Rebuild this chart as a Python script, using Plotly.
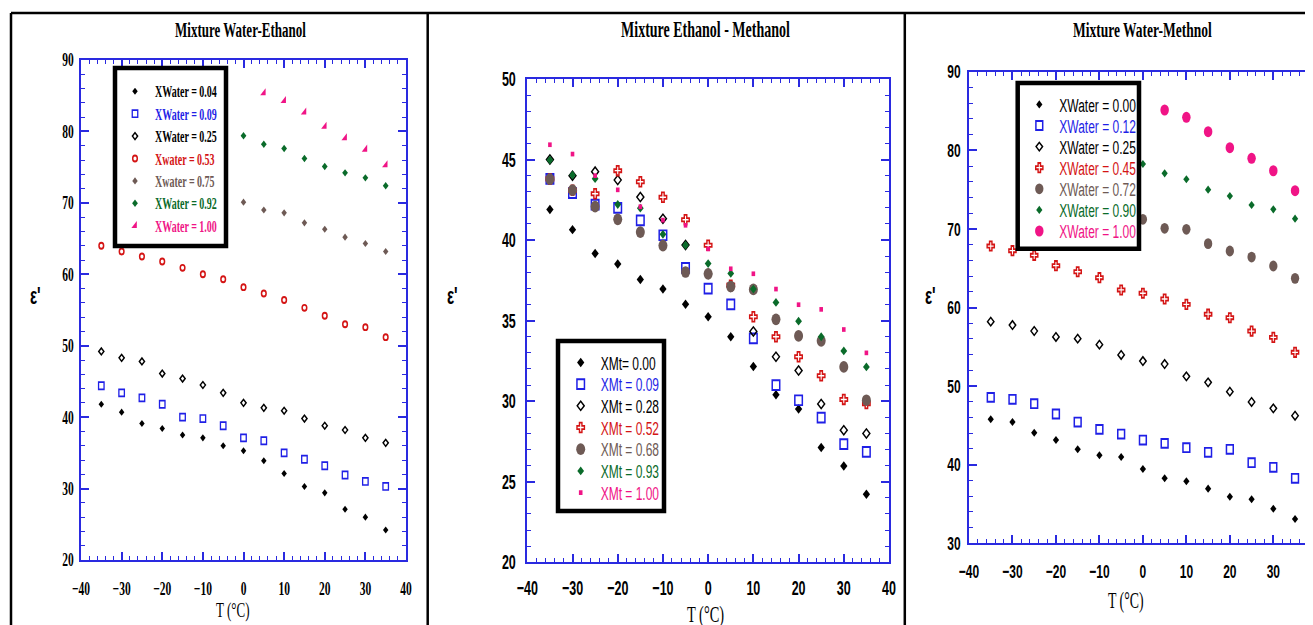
import plotly.graph_objects as go

# ---------------- data ----------------
T_all = [-35, -30, -25, -20, -15, -10, -5, 0, 5, 10, 15, 20, 25, 30, 35]
T_from0 = [0, 5, 10, 15, 20, 25, 30, 35]
T_from5 = [5, 10, 15, 20, 25, 30, 35]

# Panel 1: Mixture Water-Ethanol
ew_004 = [41.8, 40.7, 39.1, 38.4, 37.5, 37.1, 36.0, 35.3, 33.9, 32.1, 30.3, 29.4, 27.1, 26.0, 24.2]
ew_009 = [44.4, 43.4, 42.7, 41.8, 40.0, 39.8, 38.8, 37.1, 36.7, 35.0, 34.1, 33.2, 31.9, 31.0, 30.3]
ew_025 = [49.2, 48.3, 47.8, 46.1, 45.4, 44.5, 43.4, 42.0, 41.3, 40.9, 39.8, 38.8, 38.2, 37.1, 36.4]
ew_053 = [64.0, 63.2, 62.5, 61.8, 60.9, 60.0, 59.3, 58.2, 57.3, 56.4, 55.3, 54.2, 53.0, 52.6, 51.2]
ew_075 = [70.1, 69.0, 68.6, 67.2, 66.3, 65.2, 64.3, 63.2]
ew_092 = [79.4, 78.2, 77.6, 76.2, 75.1, 74.2, 73.5, 72.4]
ew_100 = [85.4, 84.3, 82.7, 80.7, 79.1, 77.5, 75.3]

# Panel 2: Mixture Ethanol - Methanol
em_000 = [41.9, 40.65, 39.17, 38.51, 37.55, 36.97, 36.02, 35.24, 34.0, 32.15, 30.4, 29.52, 27.12, 25.98, 24.22]
em_009 = [43.8, 42.92, 42.2, 42.0, 41.23, 40.3, 38.28, 36.99, 36.01, 33.9, 31.0, 30.06, 28.98, 27.33, 26.85]
em_028 = [45.0, 44.0, 44.25, 43.73, 42.67, 41.33, 39.7, 37.9, 37.1, 34.33, 32.76, 31.9, 29.83, 28.2, 28.0]
em_052 = [43.8, 43.1, 42.88, 44.31, 43.62, 42.66, 41.26, 39.68, 37.2, 35.24, 34.0, 32.76, 31.58, 30.11, 29.85]
em_068 = [43.78, 43.1, 42.08, 41.29, 40.5, 39.66, 38.02, 37.91, 37.12, 36.94, 35.08, 34.05, 33.75, 32.13, 30.06]
em_093 = [44.97, 44.04, 43.81, 42.21, 41.98, 40.36, 39.68, 38.54, 37.93, 36.96, 36.13, 34.97, 34.0, 33.12, 32.13]
em_100 = [45.92, 45.34, 44.0, 43.12, 42.07, 41.24, 40.92, 39.45, 38.22, 37.91, 36.96, 35.99, 35.7, 34.45, 33.0]

# Panel 3: Mixture Water-Methnol
wm_000 = [45.78, 45.43, 44.07, 43.14, 41.96, 41.2, 40.98, 39.45, 38.27, 37.89, 36.95, 35.93, 35.6, 34.4, 33.09]
wm_012 = [48.57, 48.32, 47.76, 46.45, 45.43, 44.5, 43.9, 43.14, 42.72, 42.16, 41.58, 41.96, 40.25, 39.67, 38.27]
wm_025 = [58.2, 57.77, 57.01, 56.25, 56.03, 55.27, 53.96, 53.19, 52.81, 51.24, 50.48, 49.29, 47.98, 47.17, 46.23]
wm_045 = [67.82, 67.23, 66.64, 65.32, 64.55, 63.79, 62.23, 61.81, 61.08, 60.4, 59.15, 58.7, 57.0, 56.2, 54.3]
wm_072 = [71.22, 70.08, 69.95, 68.12, 67.19, 66.42, 65.28, 63.71]
wm_090 = [78.26, 77.07, 76.31, 74.99, 74.19, 73.04, 72.49, 71.3]
wm_100 = [85.13, 84.2, 82.37, 80.33, 78.98, 77.4, 74.86]

labels_ew = ["XWater = 0.04", "XWater = 0.09", "XWater = 0.25", "Xwater = 0.53",
             "Xwater = 0.75", "XWater = 0.92", "XWater = 1.00"]
labels_em = ["XMt= 0.00", "XMt = 0.09", "XMt = 0.28", "XMt = 0.52",
             "XMt = 0.68", "XMt = 0.93", "XMt = 1.00"]
labels_wm = ["XWater = 0.00", "XWater = 0.12", "XWater = 0.25", "XWater = 0.45",
             "XWater = 0.72", "XWater = 0.90", "XWater = 1.00"]

titles = ["Mixture Water-Ethanol", "Mixture Ethanol - Methanol", "Mixture Water-Methnol"]

# ---------------- style ----------------
W, H = 1313, 625
OFF = 8  # page body margin of the browser
BLACK = "#000000"
BLUE = "#1f1fe6"
RED = "#d41414"
BROWN = "#6e5a55"
GREEN = "#0a6b2a"
PINK = "#f01486"
AXC = "#2a2ae0"
SERIF = "Liberation Serif, Times New Roman, serif"
SANS = "Liberation Sans, Arial, sans-serif"

def px(x):
    return (x - OFF) / W

def py(y):
    return 1 - (y - OFF) / H

fig = go.Figure()

def add(xs, ys, name, color, symbol, size, xa, ya, leg, lw=1.3, open_=False):
    mk = dict(symbol=symbol, size=size, color=color)
    if open_:
        mk["line"] = dict(color=color, width=lw)
    else:
        mk["line"] = dict(width=0)
    fig.add_trace(go.Scatter(
        x=xs, y=ys, mode="markers", marker=mk,
        name='<span style="color:%s">%s</span>' % (color, name),
        xaxis=xa, yaxis=ya, legend=leg, legendgroup=leg + name,
        hoverinfo="skip", cliponaxis=False))

# panel 1
add(T_all, ew_004, labels_ew[0], BLACK, "diamond", 4.2, "x", "y", "legend")
add(T_all, ew_009, labels_ew[1], BLUE, "square-open", 5.5, "x", "y", "legend", open_=True)
add(T_all, ew_025, labels_ew[2], BLACK, "diamond-open", 4.0, "x", "y", "legend", open_=True)
add(T_all, ew_053, labels_ew[3], RED, "circle-open", 4.6, "x", "y", "legend", lw=1.5, open_=True)
add(T_from0, ew_075, labels_ew[4], BROWN, "diamond", 4.2, "x", "y", "legend")
add(T_from0, ew_092, labels_ew[5], GREEN, "diamond", 4.4, "x", "y", "legend")
add(T_from5, ew_100, labels_ew[6], PINK, "triangle-se", 6, "x", "y", "legend")

# panel 2
add(T_all, em_000, labels_em[0], BLACK, "diamond", 5.6, "x2", "y2", "legend2")
add(T_all, em_009, labels_em[1], BLUE, "square-open", 7.5, "x2", "y2", "legend2", lw=1.5, open_=True)
add(T_all, em_028, labels_em[2], BLACK, "diamond-open", 5.4, "x2", "y2", "legend2", open_=True)
add(T_all, em_052, labels_em[3], RED, "cross-open", 6.2, "x2", "y2", "legend2", lw=1.4, open_=True)
add(T_all, em_068, labels_em[4], BROWN, "circle", 9.0, "x2", "y2", "legend2")
add(T_all, em_093, labels_em[5], GREEN, "diamond", 5.2, "x2", "y2", "legend2")
add(T_all, em_100, labels_em[6], PINK, "square", 3.6, "x2", "y2", "legend2")

# panel 3
add(T_all, wm_000, labels_wm[0], BLACK, "diamond", 4.8, "x3", "y3", "legend3")
add(T_all, wm_012, labels_wm[1], BLUE, "square-open", 6.8, "x3", "y3", "legend3", lw=1.5, open_=True)
add(T_all, wm_025, labels_wm[2], BLACK, "diamond-open", 5.0, "x3", "y3", "legend3", open_=True)
add(T_all, wm_045, labels_wm[3], RED, "cross-open", 6.0, "x3", "y3", "legend3", lw=1.4, open_=True)
add(T_from0, wm_072, labels_wm[4], BROWN, "circle", 8.3, "x3", "y3", "legend3")
add(T_from0, wm_090, labels_wm[5], GREEN, "diamond", 4.8, "x3", "y3", "legend3")
add(T_from5, wm_100, labels_wm[6], PINK, "circle", 8.5, "x3", "y3", "legend3")


def axis(domain, rng, dtick, mdtick, font, standoff, mirror="ticks"):
    return dict(domain=domain, range=rng, showline=True, linecolor=AXC, linewidth=2,
                mirror=mirror, ticks="inside", ticklen=8, tickwidth=1.5, tickcolor=AXC,
                tickmode="linear", tick0=0, dtick=dtick,
                minor=dict(ticks="inside", ticklen=4, tickwidth=1.2, tickcolor=AXC, dtick=mdtick,
                           tick0=0),
                showgrid=False, zeroline=False, tickfont=font, ticklabelstandoff=int(standoff),
                fixedrange=True, automargin=False)

f1 = dict(family=SERIF, size=11.5, color=BLACK, weight="bold")
f2 = dict(family=SANS, size=12.5, color=BLACK, weight="bold")
f3 = dict(family=SANS, size=12, color=BLACK, weight="bold")

fig.update_layout(
    xaxis=axis([px(81), px(406)], [-40, 40], 10, 2, f1, 17),
    yaxis=axis([py(560), py(60)], [20, 90], 10, 2, f1, 3),
    xaxis2=axis([px(527.3), px(889)], [-40, 40], 10, 2, f2, 13),
    yaxis2=dict(axis([py(562.3), py(79)], [20, 50], 5, 1, f2, 7), anchor="x2"),
    xaxis3=axis([px(969), px(1316.8)], [-40, 40], 10, 2, f3, 16),
    yaxis3=dict(axis([py(543.3), py(71.7)], [30, 90], 10, 2, f3, 4), anchor="x3"),
)
fig.layout.xaxis2.anchor = "y2"
fig.layout.xaxis3.anchor = "y3"

# legends (box drawn as shapes underneath)
def legend(xl, ytop, font, gap):
    return dict(x=px(xl), y=py(ytop), xanchor="left", yanchor="top", bgcolor="rgba(0,0,0,0)",
                borderwidth=0, font=font, tracegroupgap=gap, traceorder="grouped",
                itemclick=False, itemdoubleclick=False)

fig.update_layout(
    legend=legend(115, 76.8, dict(family=SERIF, size=10, color=BLACK, weight="bold"), 3.4),
    legend2=legend(560.7, 347.9, dict(family=SANS, size=12, color=BLACK), 2.7),
    legend3=legend(1019.3, 89.9, dict(family=SANS, size=12, color=BLACK), 2.1),
)

shapes = []
for (x0, x1, y0, y1) in [(115, 226, 68, 246), (558, 664, 341, 511), (1017.7, 1139, 83, 248.7)]:
    shapes.append(dict(type="rect", xref="paper", yref="paper", x0=px(x0), x1=px(x1),
                       y0=py(y1), y1=py(y0), line=dict(color=BLACK, width=4.5),
                       fillcolor="white", layer="above"))
# panel frames
shapes.append(dict(type="line", xref="paper", yref="paper", x0=px(11), x1=1, y0=py(13), y1=py(13),
                   line=dict(color=BLACK, width=2.5)))
for xv in [11, 427.7, 904.8]:
    shapes.append(dict(type="line", xref="paper", yref="paper", x0=px(xv), x1=px(xv),
                       y0=py(13), y1=0, line=dict(color=BLACK, width=2.5)))
fig.update_layout(shapes=shapes)

ann = []
for (t, xc, fs) in zip(titles, [240.7, 705, 1142.3], [13, 14, 13.5]):
    ann.append(dict(text=t, x=px(xc), y=py(29.5), xref="paper", yref="paper", showarrow=False,
                    xanchor="center", yanchor="middle",
                    font=dict(family=SERIF, size=fs, color=BLACK, weight="bold")))
for (xc, yc, fs) in [(35, 295, 15), (452, 295, 15), (930, 295, 15)]:
    ann.append(dict(text="ε'", x=px(xc), y=py(yc), xref="paper", yref="paper", showarrow=False,
                    xanchor="center", yanchor="middle",
                    font=dict(family=SANS, size=fs, color=BLACK, weight="bold")))
for (xc, yc, fs) in [(232, 609, 13), (705, 614, 14.4), (1125.7, 601, 13.8)]:
    ann.append(dict(text="T (°C)", x=px(xc), y=py(yc), xref="paper", yref="paper", showarrow=False,
                    xanchor="center", yanchor="middle",
                    font=dict(family=SERIF, size=fs, color=BLACK)))
fig.update_layout(annotations=ann)

fig.update_layout(width=W, height=H,
                  margin=dict(l=0, r=0, t=0, b=0, pad=0, autoexpand=False),
                  paper_bgcolor="white", plot_bgcolor="white", showlegend=True,
                  hovermode=False)

# the reference artwork is vertically stretched: stretch texts and markers the same way
post = """
var gd = document.getElementById('{plot_id}');
var S = 1.6, M = 1.3;
function stretchAll(){
  gd.querySelectorAll('text').forEach(function(el){
    var t = el.getAttribute('transform') || '';
    if (t.indexOf('scale(1,') >= 0) return;
    var x = parseFloat(el.getAttribute('x')) || 0;
    var y = parseFloat(el.getAttribute('y')) || 0;
    var fs = parseFloat(el.style.fontSize) || 12;
    var cy = y - 0.35 * fs;
    el.setAttribute('transform', t + ' translate(' + x + ',' + cy + ') scale(1,' + S + ') translate(' + (-x) + ',' + (-cy) + ')');
  });
  gd.querySelectorAll('path.point, path.scatterpts').forEach(function(el){
    var t = el.getAttribute('transform') || '';
    if (t.indexOf('scale(1,') >= 0) return;
    el.setAttribute('transform', t + ' scale(1,' + M + ')');
  });
}
try {
  stretchAll();
  if (gd.on) { gd.on('plotly_afterplot', stretchAll); }
  setTimeout(stretchAll, 50);
} catch (e) {}
"""

fig.write_html("out.html", config={"displayModeBar": False, "responsive": False}, post_script=post)
